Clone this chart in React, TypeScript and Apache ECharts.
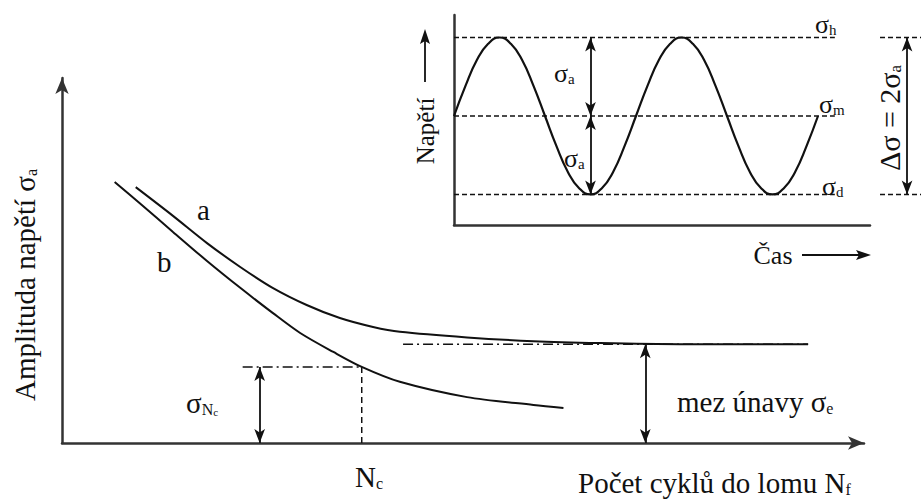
import React, { useEffect, useRef } from "react";
import * as echarts from "echarts";

// Fatigue (S–N) curves: x = log of cycles to failure, y = stress amplitude
const curveA_N = [0.91, 1.37, 1.79, 2.2, 2.6, 3.02, 3.43, 3.84, 4.17, 5.0, 5.82, 6.64, 7.63, 9.21];
const curveA_S = [68.6, 60.9, 53.6, 47.2, 41.6, 37.0, 33.5, 31.1, 29.8, 28.3, 27.3, 26.8, 26.5, 26.5];
const curveB_N = [0.65, 0.96, 1.37, 1.79, 2.2, 2.6, 2.94, 3.35, 3.7, 4.17, 5.0, 5.82, 6.19];
const curveB_S = [70.0, 64.3, 56.6, 48.8, 41.6, 34.9, 29.5, 24.4, 20.4, 16.4, 12.3, 10.2, 9.4];

// Endurance limit of curve a and the limited life point of curve b
const enduranceLimit = 26.5;
const enduranceLineFrom = 4.21;
const enduranceArrowN = 7.2;
const cyclesNc = 3.7;
const stressNc = 20.4;
const ncLineFrom = 2.23;
const ncArrowN = 2.44;

// Inset: one stress cycle history, time in quarter periods, stress in amplitudes
const sineTime = [
  0, 0.25, 0.5, 0.75, 1, 1.25, 1.5, 1.75, 2, 2.25, 2.5, 2.75, 3, 3.25, 3.5, 3.75,
  4, 4.25, 4.5, 4.75, 5, 5.25, 5.5, 5.75, 6, 6.25, 6.5, 6.75, 7, 7.25, 7.5, 7.75, 8,
];
const sineStress = [
  0, 0.38, 0.71, 0.92, 1, 0.92, 0.71, 0.38, 0, -0.38, -0.71, -0.92, -1, -0.92, -0.71, -0.38,
  0, 0.38, 0.71, 0.92, 1, 0.92, 0.71, 0.38, 0, -0.38, -0.71, -0.92, -1, -0.92, -0.71, -0.38, 0,
];
const sigmaUpper = 1;
const sigmaMean = 0;
const sigmaLower = -1;
const levelLineEnd = 8.37;
const amplitudeArrowT = 3;
const rangeArrowX = 0.66;

const SERIF = '"Liberation Serif", "Times New Roman", serif';
const INK = "#111";

const zip = (xs: number[], ys: number[]) => xs.map((x, i) => [x, ys[i]]);

const arrowMark = (segments: number[][][]) => ({
  silent: true,
  symbol: ["arrow", "arrow"],
  symbolSize: [8, 14],
  label: { show: false },
  emphasis: { disabled: true },
  lineStyle: { color: INK, width: 1.8, type: "solid" },
  data: segments.map(([a, b]) => [{ coord: a }, { coord: b }]),
});

const lineSeries = (
  data: (number[])[],
  axis: number,
  style: Record<string, unknown>,
  extra: Record<string, unknown> = {}
) => ({
  type: "line",
  xAxisIndex: axis,
  yAxisIndex: axis,
  data,
  showSymbol: false,
  symbol: "none",
  silent: true,
  lineStyle: { color: INK, width: 2, ...style },
  emphasis: { disabled: true },
  ...extra,
});

const richStyles = (size: number, sub: number) => ({
  s: { fontSize: size, fontFamily: SERIF, fill: INK },
  sub: { fontSize: sub, fontFamily: SERIF, fill: INK, verticalAlign: "bottom", lineHeight: sub + 2 },
  subsub: { fontSize: sub - 5, fontFamily: SERIF, fill: INK, verticalAlign: "bottom", lineHeight: sub - 4 },
});

const label = (
  text: string,
  x: number,
  y: number,
  size = 29,
  align = "left",
  rotation = 0
) => ({
  type: "text",
  x,
  y,
  rotation,
  silent: true,
  style: {
    text,
    fontSize: size,
    fontFamily: SERIF,
    fill: INK,
    align,
    verticalAlign: "middle",
    rich: richStyles(size, Math.round(size * 0.56)),
  },
});

const valueAxis = (grid: number, min: number, max: number, show: boolean, arrow: boolean) => ({
  type: "value",
  gridIndex: grid,
  min,
  max,
  axisLine: {
    show,
    onZero: false,
    symbol: arrow ? ["none", "arrow"] : ["none", "none"],
    symbolSize: [10, 16],
    lineStyle: { color: "#333", width: 2.5 },
  },
  axisTick: { show: false },
  axisLabel: { show: false },
  splitLine: { show: false },
});

export default function App() {
  const ref = useRef<HTMLDivElement>(null);

  useEffect(() => {
    if (!ref.current) return;
    const chart = echarts.init(ref.current, undefined, { renderer: "svg" });

    const dashDot = { width: 1.5, type: [10, 4, 2, 4] };
    const dashed = { width: 1.5, type: [5, 3] };

    chart.setOption({
      animation: false,
      backgroundColor: "#fff",
      grid: [
        { left: 62, right: 57, top: 78, bottom: 56 },
        { left: 454, width: 416, top: 15, height: 210 },
        { left: 880, width: 41, top: 15, height: 210 },
      ],
      xAxis: [
        valueAxis(0, 0, 9.9, true, true),
        valueAxis(1, 0, 9.143, true, false),
        valueAxis(2, 0, 1, false, false),
      ],
      yAxis: [
        valueAxis(0, 0, 97.86, true, true),
        valueAxis(1, -1.389, 1.287, true, false),
        valueAxis(2, -1.389, 1.287, false, false),
      ],
      series: [
        lineSeries(zip(curveA_N, curveA_S), 0, {}, { smooth: 0.3 }),
        lineSeries(zip(curveB_N, curveB_S), 0, {}, { smooth: 0.3 }),
        lineSeries(
          [[enduranceLineFrom, enduranceLimit], [curveA_N[curveA_N.length - 1], enduranceLimit]],
          0,
          dashDot,
          { markLine: arrowMark([[[enduranceArrowN, 0], [enduranceArrowN, enduranceLimit]]]) }
        ),
        lineSeries(
          [[ncLineFrom, stressNc], [cyclesNc, stressNc]],
          0,
          dashDot,
          { markLine: arrowMark([[[ncArrowN, 0], [ncArrowN, stressNc]]]) }
        ),
        lineSeries([[cyclesNc, 0], [cyclesNc, stressNc]], 0, { width: 1.5, type: [6, 4] }),

        lineSeries(zip(sineTime, sineStress), 1, { width: 2.2 }, { smooth: true }),
        lineSeries([[0, sigmaUpper], [levelLineEnd, sigmaUpper]], 1, dashed),
        lineSeries(
          [[0, sigmaMean], [levelLineEnd, sigmaMean]],
          1,
          dashed,
          {
            markLine: arrowMark([
              [[amplitudeArrowT, sigmaUpper], [amplitudeArrowT, sigmaMean]],
              [[amplitudeArrowT, sigmaMean], [amplitudeArrowT, sigmaLower]],
            ]),
          }
        ),
        lineSeries([[0, sigmaLower], [levelLineEnd, sigmaLower]], 1, dashed),

        lineSeries([[0, sigmaUpper], [1, sigmaUpper]], 2, dashed, {
          markLine: arrowMark([[[rangeArrowX, sigmaLower], [rangeArrowX, sigmaUpper]]]),
        }),
        lineSeries([[0, sigmaLower], [1, sigmaLower]], 2, dashed),
      ],
      graphic: [
        // main diagram
        label("Amplituda napětí {s|σ}{sub|a}", 25, 285, 29, "center", Math.PI / 2),
        label("a", 197, 210),
        label("b", 157, 262),
        label("{s|σ}{sub|N}{subsub|c}", 186, 403),
        label("{s|N}{sub|c}", 355, 477),
        label("mez únavy {s|σ}{sub|e}", 677, 402),
        label("Počet cyklů do lomu N{sub|f}", 578, 483),

        // inset: stress versus time
        label("Napětí", 425, 131, 25, "center", Math.PI / 2),
        {
          type: "line",
          silent: true,
          shape: { x1: 425, y1: 82, x2: 425, y2: 40 },
          style: { stroke: INK, lineWidth: 1.8 },
        },
        {
          type: "polygon",
          silent: true,
          shape: { points: [[425, 29], [420, 44], [425, 41], [430, 44]] },
          style: { fill: INK },
        },
        label("Čas", 773, 255, 26, "center"),
        {
          type: "line",
          silent: true,
          shape: { x1: 802, y1: 255, x2: 860, y2: 255 },
          style: { stroke: INK, lineWidth: 1.8 },
        },
        {
          type: "polygon",
          silent: true,
          shape: { points: [[871, 255], [856, 250], [859, 255], [856, 260]] },
          style: { fill: INK },
        },
        label("{s|σ}{sub|a}", 554, 73, 26),
        label("{s|σ}{sub|a}", 564, 158, 26),
        label("{s|σ}{sub|h}", 815, 24, 26),
        label("{s|σ}{sub|m}", 819, 104, 26),
        label("{s|σ}{sub|d}", 822, 186, 26),
        label("Δσ = 2{s|σ}{sub|a}", 889, 118, 30, "center", Math.PI / 2),
      ],
    });

    return () => chart.dispose();
  }, []);

  return (
    <div
      ref={ref}
      style={{ position: "absolute", left: 0, top: 0, width: 921, height: 499, background: "#fff" }}
    />
  );
}
